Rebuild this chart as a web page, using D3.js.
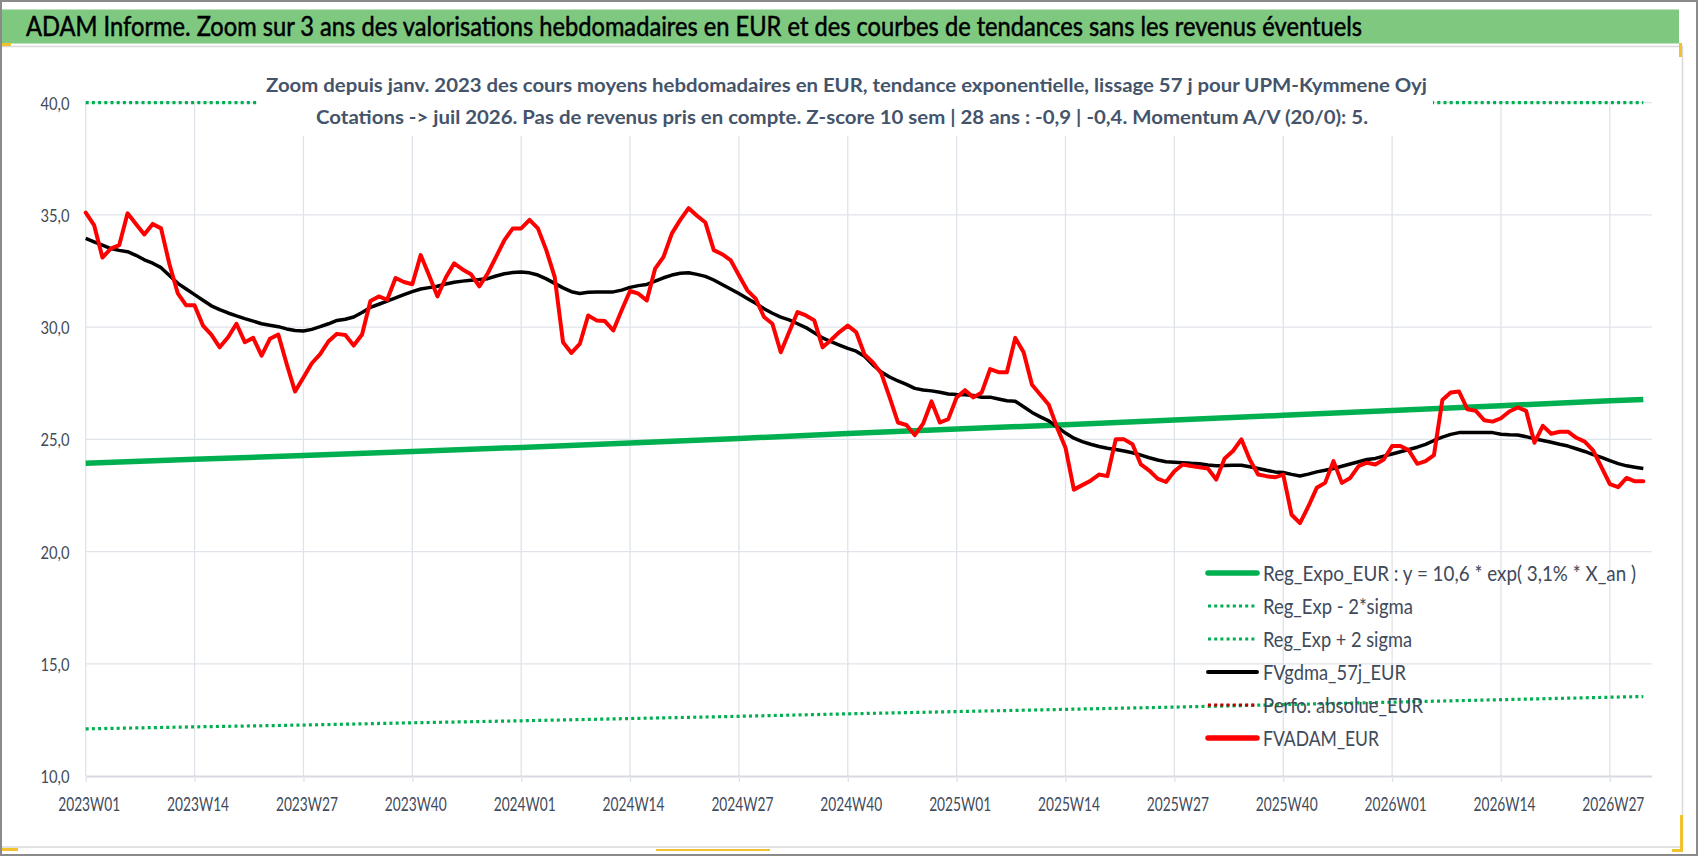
<!DOCTYPE html>
<html>
<head>
<meta charset="utf-8">
<script src="https://cdn.jsdelivr.net/npm/d3@7"></script>
<style>
  body { margin: 0; background: #fff; }
  svg { display: block; }
  text { font-family: Lato, "Open Sans", sans-serif; }
</style>
</head>
<body>
<div id="chart"></div>
<script>
// x axis: weekly categories, one label every 13 weeks
const tickLabels = ["2023W01", "2023W14", "2023W27", "2023W40", "2024W01", "2024W14", "2024W27", "2024W40",
    "2025W01", "2025W14", "2025W27", "2025W40", "2026W01", "2026W14", "2026W27"];
const tickWeeks = [0, 13, 26, 39, 52, 65, 78, 91, 104, 117, 130, 143, 156, 169, 182];
const yTicks = [10, 15, 20, 25, 30, 35, 40];

// FVADAM_EUR, weekly average price
const fvadam = [
    35.1, 34.55, 33.1, 33.5, 33.65, 35.07, 34.6, 34.13, 34.6, 34.4,
    32.8, 31.5, 30.97, 30.97, 30.07, 29.67, 29.1, 29.55, 30.15, 29.33,
    29.52, 28.73, 29.48, 29.67, 28.36, 27.13, 27.76, 28.39, 28.8, 29.37,
    29.7, 29.65, 29.18, 29.67, 31.16, 31.37, 31.22, 32.19, 32.01, 31.91,
    33.21, 32.31, 31.37, 32.21, 32.84, 32.57, 32.36, 31.82, 32.39, 33.13,
    33.88, 34.4, 34.4, 34.78, 34.4, 33.43, 32.24, 29.33, 28.85, 29.25,
    30.52, 30.3, 30.27, 29.85, 30.75, 31.61, 31.49, 31.19, 32.61, 33.13,
    34.18, 34.78, 35.3, 34.96, 34.66, 33.43, 33.25, 32.99, 32.31, 31.64,
    31.27, 30.45, 30.15, 28.88, 29.78, 30.67, 30.52, 30.3, 29.1, 29.43,
    29.78, 30.07, 29.78, 28.78, 28.43, 27.94, 26.87, 25.75, 25.64, 25.19,
    25.7, 26.69, 25.75, 25.9, 26.87, 27.19, 26.87, 27.09, 28.13, 27.99,
    27.99, 29.52, 28.88, 27.43, 26.99, 26.54, 25.52, 24.63, 22.76, 22.96,
    23.16, 23.43, 23.36, 25.0, 25.0, 24.78, 23.88, 23.61, 23.25, 23.1,
    23.58, 23.88, 23.81, 23.76, 23.7, 23.21, 24.15, 24.48, 25.0, 24.1,
    23.43, 23.36, 23.31, 23.43, 21.64, 21.27, 22.01, 22.84, 23.06, 24.03,
    23.06, 23.28, 23.81, 23.96, 23.88, 24.1, 24.7, 24.7, 24.51, 23.91,
    24.03, 24.3, 26.75, 27.09, 27.13, 26.34, 26.27, 25.85, 25.79, 25.94,
    26.24, 26.42, 26.27, 24.85, 25.6, 25.25, 25.34, 25.34, 25.07, 24.9,
    24.51, 23.76, 23.01, 22.87, 23.28, 23.13, 23.13
];

// FVgdma_57j_EUR, 57-day smoothing
const fvgdma = [
    33.95, 33.8, 33.65, 33.5, 33.42, 33.36, 33.2, 33.0, 32.85, 32.65,
    32.3, 31.95, 31.7, 31.45, 31.2, 30.95, 30.78, 30.63, 30.5, 30.38,
    30.27, 30.15, 30.08, 30.02, 29.92, 29.85, 29.83, 29.9, 30.02, 30.15,
    30.3, 30.35, 30.45, 30.65, 30.88, 31.02, 31.16, 31.3, 31.45, 31.58,
    31.7, 31.76, 31.82, 31.92, 32.0, 32.05, 32.09, 32.12, 32.16, 32.28,
    32.38, 32.43, 32.46, 32.42, 32.32, 32.15, 31.95, 31.75, 31.58, 31.5,
    31.55, 31.57, 31.57, 31.57, 31.65, 31.77, 31.85, 31.9, 32.05, 32.2,
    32.32, 32.4, 32.42, 32.35, 32.26, 32.1, 31.9, 31.7, 31.5, 31.28,
    31.06, 30.82, 30.62, 30.45, 30.32, 30.15, 29.98, 29.75, 29.52, 29.35,
    29.2, 29.05, 28.93, 28.7, 28.32, 28.0, 27.78, 27.6, 27.45, 27.27,
    27.2, 27.16, 27.1, 27.02, 27.0, 26.99, 26.95, 26.88, 26.88, 26.8,
    26.72, 26.7, 26.45, 26.2, 26.0, 25.82, 25.55, 25.28, 25.05, 24.9,
    24.78, 24.68, 24.6, 24.55, 24.48, 24.4, 24.3, 24.18, 24.08, 24.0,
    23.98, 23.96, 23.93, 23.91, 23.86, 23.82, 23.83, 23.85, 23.85, 23.78,
    23.7, 23.62, 23.55, 23.52, 23.44, 23.37, 23.45, 23.55, 23.62, 23.7,
    23.8, 23.9, 24.0, 24.1, 24.15, 24.25, 24.35, 24.45, 24.55, 24.65,
    24.78, 24.95, 25.1, 25.22, 25.3, 25.3, 25.3, 25.3, 25.3, 25.23,
    25.2, 25.19, 25.12, 25.02, 24.95, 24.87, 24.78, 24.7, 24.58, 24.46,
    24.32, 24.2, 24.05, 23.92, 23.82, 23.76, 23.7
];

// exponential regression and its +/- 2 sigma band, read at every 13th week
const regWeeks = [0, 13, 26, 39, 52, 65, 78, 91, 104, 117, 130, 143, 156, 169, 182, 186];
const regExpo = [23.93, 24.11, 24.28, 24.46, 24.64, 24.84, 25.04, 25.26, 25.46, 25.65, 25.86, 26.07, 26.29, 26.5, 26.72, 26.78];
const regLow = [12.1, 12.19, 12.27, 12.37, 12.46, 12.56, 12.66, 12.77, 12.87, 12.97, 13.07, 13.18, 13.29, 13.4, 13.51, 13.54];
// above the axis maximum, so it shows pinned at 40,0
const regHigh = [47.3, 47.7, 48.0, 48.4, 48.7, 49.1, 49.5, 50.0, 50.4, 50.7, 51.2, 51.6, 52.0, 52.4, 52.9, 53.0];
// off scale, only in the legend
const perfoAbsolue = [];

const legendNames = ["Reg_Expo_EUR : y = 10,6 * exp( 3,1% *  X_an )", "Reg_Exp - 2*sigma", "Reg_Exp + 2 sigma",
    "FVgdma_57j_EUR", "Perfo. absolue_EUR", "FVADAM_EUR"];

const titleText = "ADAM Informe. Zoom sur 3 ans des valorisations hebdomadaires en EUR et des courbes de tendances sans les revenus éventuels";
const subTitle1 = "Zoom depuis janv. 2023 des cours moyens hebdomadaires en EUR, tendance exponentielle, lissage 57 j pour UPM-Kymmene Oyj";
const subTitle2 = "Cotations -> juil 2026. Pas de revenus pris en compte. Z-score 10 sem | 28 ans : -0,9 | -0,4. Momentum A/V (20/0): 5.";

const W = 1698, H = 856;
const gridColor = "#dfe3ea";

const svg = d3.select("#chart").append("svg")
    .attr("width", W)
    .attr("height", H);

const fit = (sel, w) => sel.attr("textLength", w).attr("lengthAdjust", "spacingAndGlyphs");

// chart frame
svg.append("rect").attr("x", 0).attr("y", 0).attr("width", W).attr("height", H).attr("fill", "#fff");
svg.append("rect")
    .attr("x", 0.5).attr("y", 46.5).attr("width", 1682).attr("height", 800.5)
    .attr("fill", "none").attr("stroke", "#d9d9d9").attr("stroke-width", 1.5);

const x = d3.scaleLinear().domain([0, 187]).range([85.7, 1651.7]);
const y = d3.scaleLinear().domain([10, 40]).range([776, 102.7]);

// gridlines
svg.append("g").selectAll("line")
    .data(yTicks.slice(1))
    .join("line")
    .attr("x1", x(0)).attr("x2", x(187))
    .attr("y1", d => y(d)).attr("y2", d => y(d))
    .attr("stroke", gridColor).attr("stroke-width", 1.3);

svg.append("g").selectAll("line")
    .data(tickWeeks)
    .join("line")
    .attr("x1", d => x(d)).attr("x2", d => x(d))
    .attr("y1", y(40)).attr("y2", y(10))
    .attr("stroke", gridColor).attr("stroke-width", 1.3);

// axes
const xAxis = svg.append("g")
    .attr("transform", `translate(0,${y(10)})`)
    .call(d3.axisBottom(x).tickValues(tickWeeks).tickFormat((d, i) => tickLabels[i]).tickSize(6).tickSizeOuter(0));
xAxis.select(".domain").attr("stroke", "#d6dae0").attr("stroke-width", 2);
xAxis.selectAll(".tick line").attr("stroke", gridColor).attr("stroke-width", 1.3);
xAxis.selectAll(".tick text")
    .attr("x", 3).attr("y", 35).attr("dy", 0)
    .attr("fill", "#404a5a").attr("font-size", 20)
    .style("font-family", "Lato, 'Open Sans', sans-serif")
    .call(fit, 62);

const yAxis = svg.append("g")
    .attr("transform", `translate(${x(0)},0)`)
    .call(d3.axisLeft(y).tickValues(yTicks).tickFormat(d => d.toFixed(1).replace(".", ",")).tickSize(0));
yAxis.select(".domain").remove();
yAxis.selectAll(".tick text")
    .attr("x", -16.2).attr("dy", "0.36em")
    .attr("fill", "#404a5a").attr("font-size", 18)
    .style("font-family", "Lato, 'Open Sans', sans-serif")
    .call(fit, 29);

// series
const weekLine = d3.line().x((d, i) => x(i)).y(d => y(d));
const regLine = d3.line().x((d, i) => x(regWeeks[i])).y(d => y(Math.min(d, 40)));

const plot = svg.append("g");
plot.append("path").datum(regExpo)
    .attr("d", regLine).attr("fill", "none")
    .attr("stroke", "#00b050").attr("stroke-width", 5.5);
plot.append("path").datum(regLow)
    .attr("d", regLine).attr("fill", "none")
    .attr("stroke", "#00b050").attr("stroke-width", 3.2).attr("stroke-dasharray", "3 3.2");
plot.append("path").datum(regHigh)
    .attr("d", regLine).attr("fill", "none")
    .attr("stroke", "#00b050").attr("stroke-width", 3.2).attr("stroke-dasharray", "3 3.2");
plot.append("path").datum(fvgdma)
    .attr("d", weekLine).attr("fill", "none")
    .attr("stroke", "#000").attr("stroke-width", 3.5)
    .attr("stroke-linejoin", "round");
plot.append("path").datum(perfoAbsolue)
    .attr("d", weekLine).attr("fill", "none")
    .attr("stroke", "#c00000").attr("stroke-width", 3).attr("stroke-dasharray", "3 3.2");
plot.append("path").datum(fvadam)
    .attr("d", weekLine).attr("fill", "none")
    .attr("stroke", "#ff0000").attr("stroke-width", 4)
    .attr("stroke-linejoin", "round").attr("stroke-linecap", "round");

// subtitle box (white fill, sits over the plot)
svg.append("rect")
    .attr("x", 257).attr("y", 60).attr("width", 1176).attr("height", 76)
    .attr("fill", "#fff");
svg.append("text")
    .attr("x", 266).attr("y", 92)
    .attr("font-size", 19).attr("font-weight", "bold").attr("fill", "#44546a")
    .text(subTitle1).call(fit, 1161);
svg.append("text")
    .attr("x", 316).attr("y", 124)
    .attr("font-size", 19).attr("font-weight", "bold").attr("fill", "#44546a")
    .text(subTitle2).call(fit, 1052);

// legend
const legendStyles = [
    { color: "#00b050", width: 5.5, dash: null },
    { color: "#00b050", width: 3.2, dash: "3 3.2" },
    { color: "#00b050", width: 3.2, dash: "3 3.2" },
    { color: "#000000", width: 4, dash: null },
    { color: "#c00000", width: 3, dash: "3 3.2" },
    { color: "#ff0000", width: 5.5, dash: null }
];
const legendWidths = [373, 150, 149, 143, 160, 116];

const legend = svg.append("g").selectAll("g")
    .data(legendNames)
    .join("g")
    .attr("transform", (d, i) => `translate(1208,${573 + i * 33})`);
legend.append("line")
    .attr("x1", 0).attr("x2", 49)
    .attr("stroke", (d, i) => legendStyles[i].color)
    .attr("stroke-width", (d, i) => legendStyles[i].width)
    .attr("stroke-dasharray", (d, i) => legendStyles[i].dash)
    .attr("stroke-linecap", (d, i) => legendStyles[i].dash ? "butt" : "round");
legend.append("text")
    .attr("x", 55).attr("y", 8)
    .attr("font-size", 22).attr("fill", "#404a5a")
    .text(d => d)
    .each(function (d, i) { d3.select(this).call(fit, legendWidths[i]); });

// title band
svg.append("rect")
    .attr("x", 0).attr("y", 9.5).attr("width", 1679).attr("height", 34)
    .attr("fill", "#7ec880");
svg.append("text")
    .attr("x", 26).attr("y", 35.5)
    .attr("font-size", 26).attr("fill", "#000")
    .attr("stroke", "#000").attr("stroke-width", 0.5)
    .text(titleText).call(fit, 1336);

// selection handles left in the picture
const handles = [[0, 43, 11, 3], [1679, 43, 3, 14], [0, 848, 18, 3], [656, 849, 114, 2], [1680, 815, 3, 36], [1672, 849, 11, 3]];
svg.append("g").selectAll("rect")
    .data(handles)
    .join("rect")
    .attr("x", d => d[0]).attr("y", d => d[1]).attr("width", d => d[2]).attr("height", d => d[3])
    .attr("fill", "#f2c12e");

// outer border
svg.append("rect")
    .attr("x", 1).attr("y", 1).attr("width", W - 2).attr("height", H - 2)
    .attr("fill", "none").attr("stroke", "#8a8a8a").attr("stroke-width", 2);
</script>
</body>
</html>
